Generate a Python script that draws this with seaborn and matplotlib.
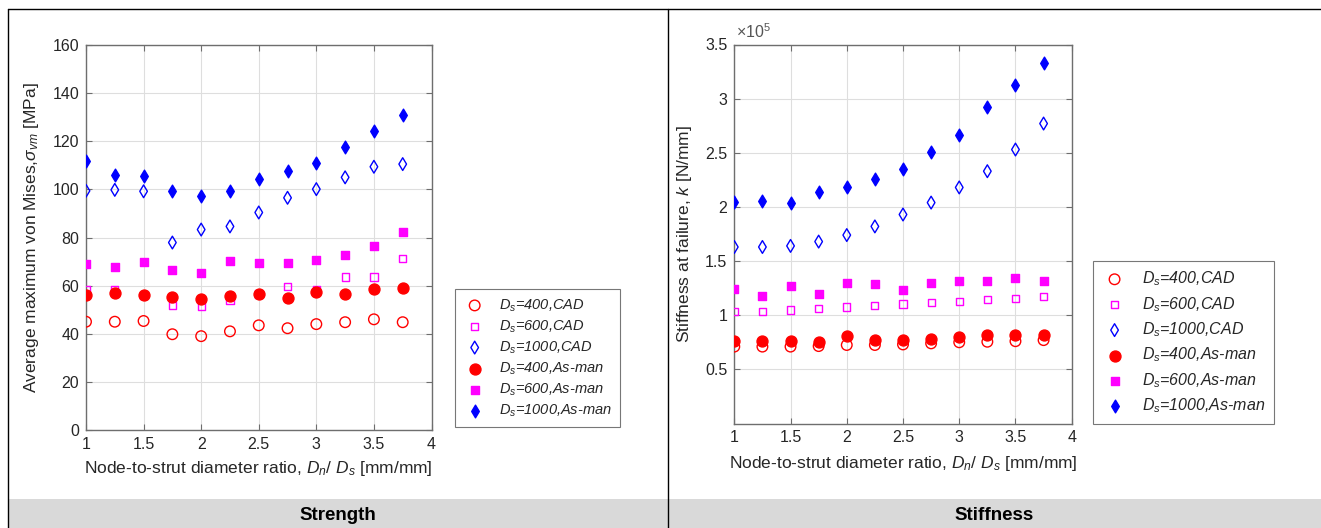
import numpy as np
import pandas as pd
import matplotlib
matplotlib.use("Agg")
import matplotlib.pyplot as plt
from matplotlib.lines import Line2D
from matplotlib.patches import Rectangle
from matplotlib.ticker import FuncFormatter
import seaborn as sns

# Node-to-strut diameter ratio Dn/Ds
ratio = [1.0, 1.25, 1.5, 1.75, 2.0, 2.25, 2.5, 2.75, 3.0, 3.25, 3.5, 3.75]

# Average maximum von Mises stress [MPa]
strength_400_cad = [45.0, 45.0, 45.3, 39.8, 39.0, 41.0, 43.5, 42.3, 44.0, 44.8, 46.0, 44.8]
strength_600_cad = [58.5, 58.5, 56.0, 51.8, 51.5, 53.7, 56.5, 59.6, 58.2, 63.6, 63.6, 71.2]
strength_1000_cad = [99.4, 99.8, 99.2, 77.9, 83.3, 84.6, 90.4, 96.5, 100.1, 105.0, 109.4, 110.5]
strength_400_am = [56.0, 56.8, 56.0, 55.4, 54.3, 55.7, 56.7, 54.8, 57.2, 56.7, 58.7, 59.0]
strength_600_am = [69.0, 67.9, 69.7, 66.7, 65.1, 70.3, 69.3, 69.3, 70.7, 72.8, 76.4, 82.2]
strength_1000_am = [111.8, 106.0, 105.7, 99.3, 97.2, 99.4, 104.2, 107.5, 110.8, 117.5, 124.3, 131.0]

# Stiffness at failure [N/mm]
stiff_400_cad = [71000, 71000, 71000, 71500, 72500, 72500, 73000, 74000, 75000, 75500, 76000, 77000]
stiff_600_cad = [103600, 103600, 104900, 106000, 107600, 108800, 110400, 111600, 112800, 114400, 115500, 117000]
stiff_1000_cad = [163000, 163000, 164000, 168000, 174000, 182000, 193000, 204000, 218000, 233000, 253000, 277000]
stiff_400_am = [76000, 76000, 76600, 75000, 81000, 77500, 77000, 78000, 80000, 82000, 82000, 82000]
stiff_600_am = [124000, 118000, 127000, 120000, 130000, 129000, 123000, 130000, 132000, 132000, 134000, 132000]
stiff_1000_am = [205000, 205500, 204000, 213500, 218000, 226000, 235000, 250600, 266000, 292000, 313000, 333000]

series_labels = [
    r"$D_s$=400,CAD", r"$D_s$=600,CAD", r"$D_s$=1000,CAD",
    r"$D_s$=400,As-man", r"$D_s$=600,As-man", r"$D_s$=1000,As-man",
]

RED, MAG, BLUE = "#ff0000", "#ff00ff", "#0000ff"
# (marker, size, colour, filled)
styles = [
    ("o", 58, RED, False),
    ("s", 27, MAG, False),
    ("d", 42, BLUE, False),
    ("o", 62, RED, True),
    ("s", 28, MAG, True),
    ("d", 42, BLUE, True),
]

sns.set_theme(style="ticks")
plt.rcParams["font.family"] = ["Liberation Sans", "DejaVu Sans"]
plt.rcParams["mathtext.fontset"] = "custom"
plt.rcParams["mathtext.rm"] = "Liberation Sans"
plt.rcParams["mathtext.it"] = "Liberation Sans:italic"
plt.rcParams["mathtext.bf"] = "Liberation Sans:bold"

TEXT = "#262626"
SPINE = "#6e6e6e"

fig = plt.figure(figsize=(13.21, 5.28), dpi=100)
ax_s = fig.add_axes([86 / 1321, 1 - 430 / 528, 345.5 / 1321, 385 / 528])
ax_k = fig.add_axes([734.3 / 1321, 1 - 423.5 / 528, 337.4 / 1321, 379 / 528])


def draw_panel(ax, values, xpad):
    frames = []
    for lab, vals in zip(series_labels, values):
        frames.append(pd.DataFrame({"ratio": ratio, "value": vals, "series": lab}))
    df = pd.concat(frames, ignore_index=True)
    for lab, (mk, sz, col, filled) in zip(series_labels, styles):
        sub = df[df["series"] == lab]
        sns.scatterplot(
            data=sub, x="ratio", y="value", ax=ax, marker=mk, s=sz,
            color=col, facecolor=col if filled else "none", edgecolor=col,
            linewidth=1.0, label=lab, legend=False, zorder=3,
        )
    ax.set_xlim(1, 4)
    ax.set_xticks([1, 1.5, 2, 2.5, 3, 3.5, 4])
    ax.set_xticklabels(["1", "1.5", "2", "2.5", "3", "3.5", "4"])
    ax.grid(True, color="#dedede", linewidth=0.8)
    ax.set_axisbelow(True)
    for sp in ax.spines.values():
        sp.set_visible(True)
        sp.set_color(SPINE)
        sp.set_linewidth(1.0)
    ax.tick_params(direction="in", length=4, width=0.8, color=SPINE,
                   top=True, right=True, labelsize=11.5, labelcolor=TEXT, pad=5)
    ax.set_xlabel(r"Node-to-strut diameter ratio, $D_n$/ $D_s$ [mm/mm]",
                  fontsize=12.5, color=TEXT, labelpad=xpad)


draw_panel(ax_s, [strength_400_cad, strength_600_cad, strength_1000_cad,
                  strength_400_am, strength_600_am, strength_1000_am], 5)
ax_s.set_ylim(0, 160)
ax_s.set_yticks(np.arange(0, 161, 20))
ax_s.set_ylabel(r"Average maximum von Mises,$\sigma_{vm}$ [MPa]",
                fontsize=12.5, color=TEXT, labelpad=8)

draw_panel(ax_k, [stiff_400_cad, stiff_600_cad, stiff_1000_cad,
                  stiff_400_am, stiff_600_am, stiff_1000_am], 6)
ax_k.set_ylim(0, 350000)
ax_k.set_yticks(np.arange(50000, 350001, 50000))
ax_k.yaxis.set_major_formatter(FuncFormatter(lambda v, _: f"{v / 1e5:g}"))
ax_k.text(0.005, 1.008, r"$\times10^{5}$", transform=ax_k.transAxes,
          ha="left", va="bottom", fontsize=11.5, color="#555555")
ax_k.set_ylabel(r"Stiffness at failure, $k$ [N/mm]",
                fontsize=12.5, color=TEXT, labelpad=8)


def add_legend(ax, anchor, fs, spacing):
    h, l = ax.get_legend_handles_labels()
    leg = ax.legend(h, l, loc="lower left", bbox_to_anchor=anchor,
                    bbox_transform=fig.transFigure, frameon=True, fancybox=False,
                    edgecolor="#555555", labelspacing=spacing,
                    handletextpad=0.9, borderpad=0.55, borderaxespad=0,
                    handlelength=1.6, prop={"style": "italic", "size": fs})
    leg.get_frame().set_linewidth(0.8)
    for t in leg.get_texts():
        t.set_color(TEXT)
    return leg


add_legend(ax_s, (455 / 1321, 1 - 427 / 528), 10.5, 0.32)
add_legend(ax_k, (1093 / 1321, 1 - 424 / 528), 11.5, 0.42)

# Table frame and caption row
band_h = 29 / 528
fig.add_artist(Rectangle((8 / 1321, 0), 1 - 8 / 1321, band_h, transform=fig.transFigure,
                         facecolor="#d9d9d9", edgecolor="none", zorder=0))
for xx in (8 / 1321, 667.5 / 1321):
    fig.add_artist(Line2D([xx, xx], [0, 1 - 9 / 528], transform=fig.transFigure,
                          color="black", linewidth=1.0))
fig.add_artist(Line2D([8 / 1321, 1], [1 - 9 / 528, 1 - 9 / 528], transform=fig.transFigure,
                      color="black", linewidth=1.0))
fig.text(338 / 1321, band_h / 2 - 0.004, "Strength", ha="center", va="center",
         fontsize=13.5, fontweight="bold", color="black")
fig.text(994 / 1321, band_h / 2 - 0.004, "Stiffness", ha="center", va="center",
         fontsize=13.5, fontweight="bold", color="black")

fig.savefig("out.png", dpi=100)
